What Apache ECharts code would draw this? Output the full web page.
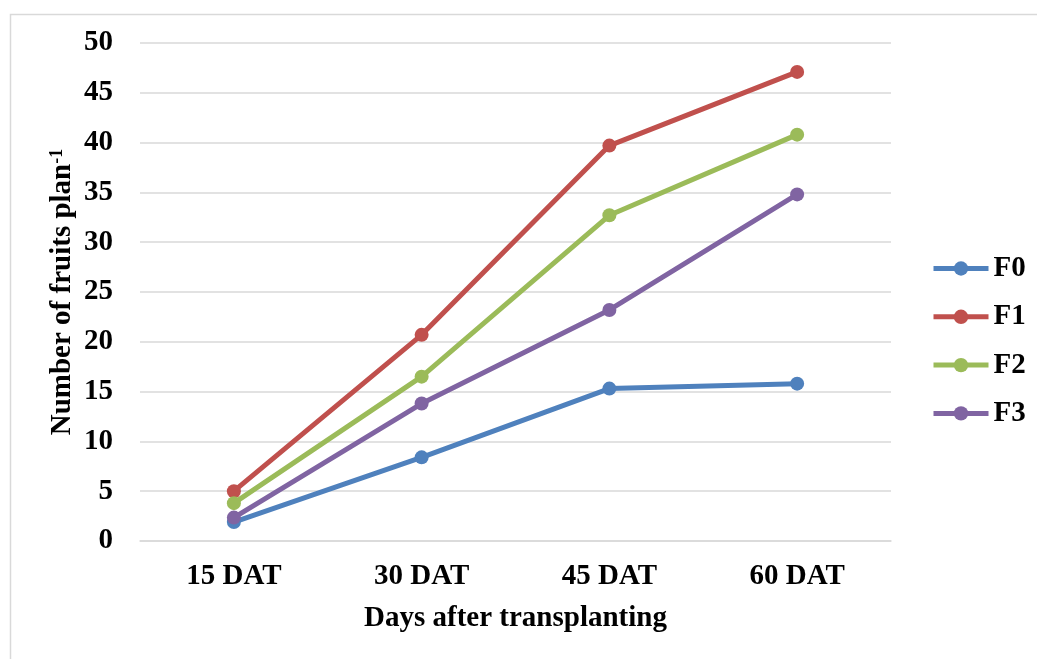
<!DOCTYPE html>
<html>
<head>
<meta charset="utf-8">
<script src="https://cdn.jsdelivr.net/npm/echarts@6/dist/echarts.min.js"></script>
<style>html,body{margin:0;padding:0;background:#fff;}#c{width:1037px;height:659px;}</style>
</head>
<body>
<div id="c"></div>
<script>
var categories = ['15 DAT', '30 DAT', '45 DAT', '60 DAT'];
var seriesNames = ['F0', 'F1', 'F2', 'F3'];
var F0 = [1.9, 8.4, 15.3, 15.8];
var F1 = [5.0, 20.7, 39.7, 47.1];
var F2 = [3.8, 16.5, 32.7, 40.8];
var F3 = [2.35, 13.8, 23.2, 34.8];
var yTicks = [0, 5, 10, 15, 20, 25, 30, 35, 40, 45, 50];
var colors = ['#4F81BD', '#C0504D', '#9BBB59', '#8064A2'];

var font = '"Liberation Serif", "Times New Roman", serif';
var fs = 29;
var allData = [F0, F1, F2, F3];
var chart = echarts.init(document.getElementById('c'));
chart.setOption({
  animation: false,
  backgroundColor: '#fff',
  graphic: [{
    type: 'rect', shape: {x: 10.5, y: 14.5, width: 1100, height: 700},
    style: {fill: 'none', stroke: '#d9d9d9', lineWidth: 1.5}, silent: true, z: -1
  }],
  grid: {left: 140, right: 146, top: 43, bottom: 118, containLabel: false},
  legend: {
    orient: 'vertical', left: 926, top: 249,
    itemWidth: 55, itemHeight: 18, itemGap: 19.3,
    data: seriesNames,
    lineStyle: {width: 5},
    textStyle: {fontFamily: font, fontWeight: 'bold', fontSize: fs, color: '#000'}
  },
  xAxis: {
    type: 'category', data: categories, boundaryGap: true,
    axisLine: {show: true, lineStyle: {color: '#d9d9d9', width: 1.5}},
    axisTick: {show: false},
    axisLabel: {fontFamily: font, fontWeight: 'bold', fontSize: fs, color: '#000', margin: 21},
    name: 'Days after transplanting', nameLocation: 'middle', nameGap: 63,
    nameMoveOverlap: false,
    nameTextStyle: {fontFamily: font, fontWeight: 'bold', fontSize: fs, color: '#000'}
  },
  yAxis: {
    type: 'value', min: yTicks[0], max: yTicks[yTicks.length - 1], interval: 5,
    axisLine: {show: false}, axisTick: {show: false},
    splitLine: {lineStyle: {color: '#d9d9d9', width: 1.5}},
    axisLabel: {fontFamily: font, fontWeight: 'bold', fontSize: fs, color: '#000', margin: 27},
    name: '{a|Number of fruits plan}{b|-1}', nameLocation: 'middle', nameGap: 63,
    nameMoveOverlap: false,
    nameTextStyle: {
      fontFamily: font, fontWeight: 'bold', fontSize: fs, color: '#000', lineHeight: 29,
      rich: {
        a: {fontFamily: font, fontWeight: 'bold', fontSize: fs, color: '#000', lineHeight: 29},
        b: {fontFamily: font, fontWeight: 'bold', fontSize: 18, color: '#000', lineHeight: 29, verticalAlign: 'top', padding: [0, 0, 0, 0]}
      }
    }
  },
  series: seriesNames.map(function (n, i) {
    return {
      name: n, type: 'line', data: allData[i],
      symbol: 'circle', symbolSize: 14,
      lineStyle: {color: colors[i], width: 5},
      itemStyle: {color: colors[i]}
    };
  })
});
</script>
</body>
</html>
